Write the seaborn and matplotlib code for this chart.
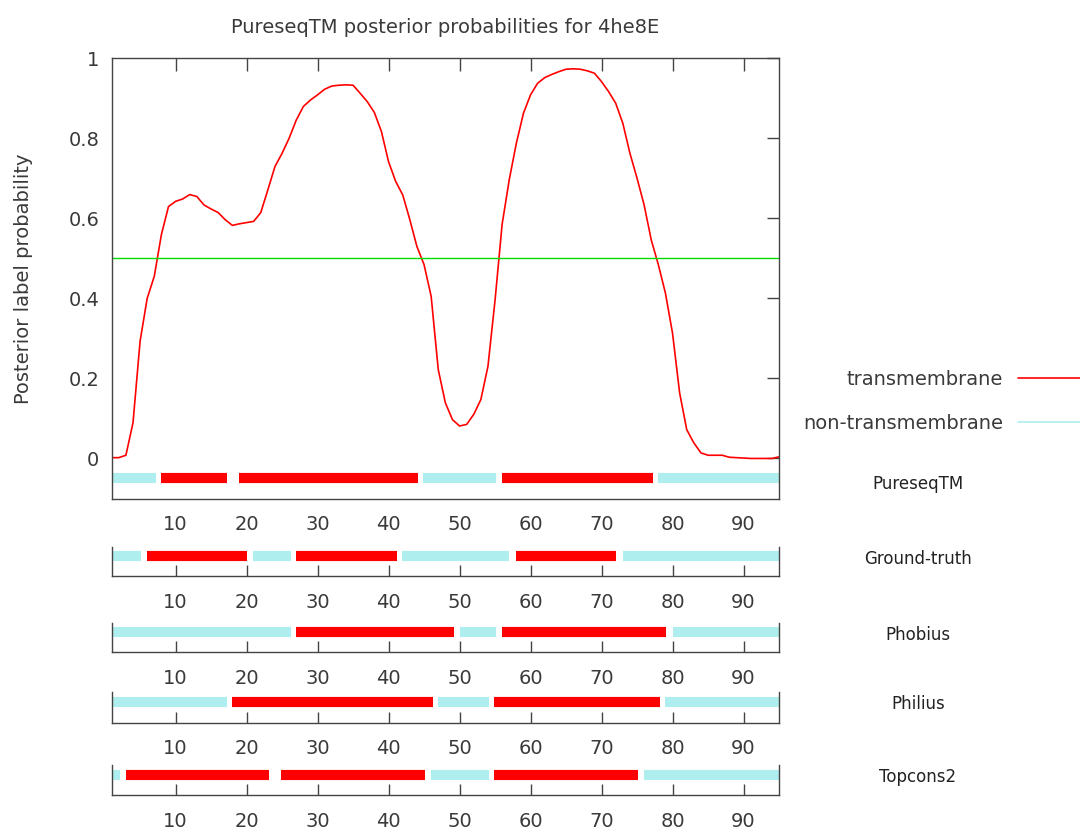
import numpy as np
import pandas as pd
import seaborn as sns
import matplotlib.pyplot as plt
from matplotlib.lines import Line2D
from matplotlib.ticker import FuncFormatter

# %% Data
residues = list(range(1, 96))
tm_prob = [0.002, 0.002, 0.008, 0.089, 0.293, 0.400, 0.455, 0.559, 0.629, 0.642,
           0.648, 0.659, 0.654, 0.633, 0.623, 0.614, 0.596, 0.582, 0.586, 0.589,
           0.592, 0.614, 0.671, 0.729, 0.762, 0.800, 0.845, 0.879, 0.895, 0.908,
           0.922, 0.930, 0.932, 0.933, 0.932, 0.912, 0.891, 0.864, 0.816, 0.741,
           0.692, 0.658, 0.596, 0.529, 0.484, 0.405, 0.222, 0.139, 0.097, 0.081,
           0.085, 0.110, 0.147, 0.230, 0.395, 0.585, 0.696, 0.787, 0.862, 0.908,
           0.937, 0.951, 0.959, 0.966, 0.972, 0.973, 0.972, 0.968, 0.962, 0.941,
           0.916, 0.887, 0.837, 0.762, 0.700, 0.633, 0.546, 0.484, 0.413, 0.313,
           0.164, 0.072, 0.039, 0.014, 0.008, 0.008, 0.008, 0.003, 0.002, 0.001,
           0.000, 0.000, 0.000, 0.000, 0.004]

# topology segments per predictor (T = transmembrane, N = non-transmembrane)
pureseq_start = [1, 7.9, 19, 44.9, 56, 78]
pureseq_end = [7.2, 17.2, 44.2, 55.1, 77.2, 95]
pureseq_kind = ['N', 'T', 'T', 'N', 'T', 'N']

truth_start = [1, 6.0, 20.9, 26.9, 41.9, 58, 73]
truth_end = [5.1, 20.1, 26.2, 41.2, 57, 72.1, 95]
truth_kind = ['N', 'T', 'N', 'T', 'N', 'T', 'N']

phobius_start = [1, 26.9, 50, 56, 80]
phobius_end = [26.2, 49.2, 55.1, 79.1, 95]
phobius_kind = ['N', 'T', 'N', 'T', 'N']

philius_start = [1, 18, 46.9, 54.9, 78.9]
philius_end = [17.2, 46.2, 54.1, 78.2, 95]
philius_kind = ['N', 'T', 'N', 'T', 'N']

topcons_start = [1, 3, 24.9, 46, 54.9, 76]
topcons_end = [2.2, 23.2, 45.1, 54.1, 75.1, 95]
topcons_kind = ['N', 'T', 'T', 'N', 'T', 'N']

x_ticks = [10, 20, 30, 40, 50, 60, 70, 80, 90]
y_ticks = [0, 0.2, 0.4, 0.6, 0.8, 1]

# %% Style
sns.set_style('white')
plt.rcParams['font.family'] = ['DejaVu Sans']
TXT = '#3a3a3a'
SPINE = '#444444'
RED = '#ff0000'
CYAN = '#afeeee'
W, H = 1080, 832


def rect(l, t, r, b):
    return [l / W, 1 - b / H, (r - l) / W, (b - t) / H]


def draw_track(ax, starts, ends, kinds):
    seg = pd.DataFrame({'start': starts, 'end': ends, 'kind': kinds})
    for kind, col in [('N', CYAN), ('T', RED)]:
        s = seg[seg['kind'] == kind]
        ax.hlines(np.full(len(s), -0.05), s['start'], s['end'], colors=col,
                  lw=7.3, capstyle='butt')


df = pd.DataFrame({'residue': residues, 'prob': tm_prob})

fig = plt.figure(figsize=(10.8, 8.32), dpi=100)

# main posterior panel
ax = fig.add_axes(rect(111.7, 58, 779, 498.5))
sns.lineplot(data=df, x='residue', y='prob', color=RED, lw=1.2, ax=ax)
ax.axhline(0.5, color='#00dd00', lw=1)
draw_track(ax, pureseq_start, pureseq_end, pureseq_kind)
ax.set_xlim(1, 95)
ax.set_ylim(-0.1, 1)
ax.set_xticks(x_ticks)
ax.set_yticks(y_ticks)
ax.yaxis.set_major_formatter(FuncFormatter(lambda v, p: '%g' % v))
ax.tick_params(direction='in', length=9, width=1, color=SPINE, top=True, right=True,
               labelsize=14, labelcolor=TXT)
ax.tick_params(axis='x', pad=12)
ax.tick_params(axis='y', pad=9)
ax.set_xlabel('')
ax.set_ylabel('Posterior label probability', fontsize=14, color=TXT)
ax.yaxis.set_label_coords(-0.118, 0.5)
ax.set_title('PureseqTM posterior probabilities for 4he8E', fontsize=14, color=TXT, pad=18)
for sp in ax.spines.values():
    sp.set_color(SPINE)
    sp.set_linewidth(1)

# lower predictor panels
tracks = [
    ('Ground-truth', truth_start, truth_end, truth_kind, 547, 576),
    ('Phobius', phobius_start, phobius_end, phobius_kind, 623, 652),
    ('Philius', philius_start, philius_end, philius_kind, 692, 722.5),
    ('Topcons2', topcons_start, topcons_end, topcons_kind, 765, 795),
]
for name, st, en, kd, top, bot in tracks:
    tax = fig.add_axes(rect(111.7, top, 779, bot))
    draw_track(tax, st, en, kd)
    tax.set_xlim(1, 95)
    tax.set_ylim(-0.1, -0.1 + (bot - top) / 401)
    tax.set_xticks(x_ticks)
    tax.set_yticks([])
    tax.tick_params(axis='x', direction='in', length=8, width=1, color=SPINE,
                    labelsize=14, labelcolor=TXT, pad=12, bottom=True)
    tax.spines['top'].set_visible(False)
    for k in ['left', 'bottom', 'right']:
        tax.spines[k].set_color(SPINE)
        tax.spines[k].set_linewidth(1)
    fig.text(918 / W, 1 - ((top + bot) / 2 - 3) / H, name, ha='center', va='center',
             fontsize=12, color='#222222')

fig.text(918 / W, 1 - 484 / H, 'PureseqTM', ha='center', va='center',
         fontsize=12, color='#222222')

# legend on the right
handles = [Line2D([], [], color=RED, lw=1.2), Line2D([], [], color=CYAN, lw=1.2)]
fig.legend(handles, ['transmembrane', 'non-transmembrane'], loc='center right',
           bbox_to_anchor=(1.0, 1 - 401.5 / H), bbox_transform=fig.transFigure,
           frameon=False, markerfirst=False, fontsize=14, handlelength=3.2,
           handletextpad=0.75, labelspacing=1.27, borderpad=0, borderaxespad=0,
           labelcolor=TXT)

fig.savefig('out.png', dpi=100)
